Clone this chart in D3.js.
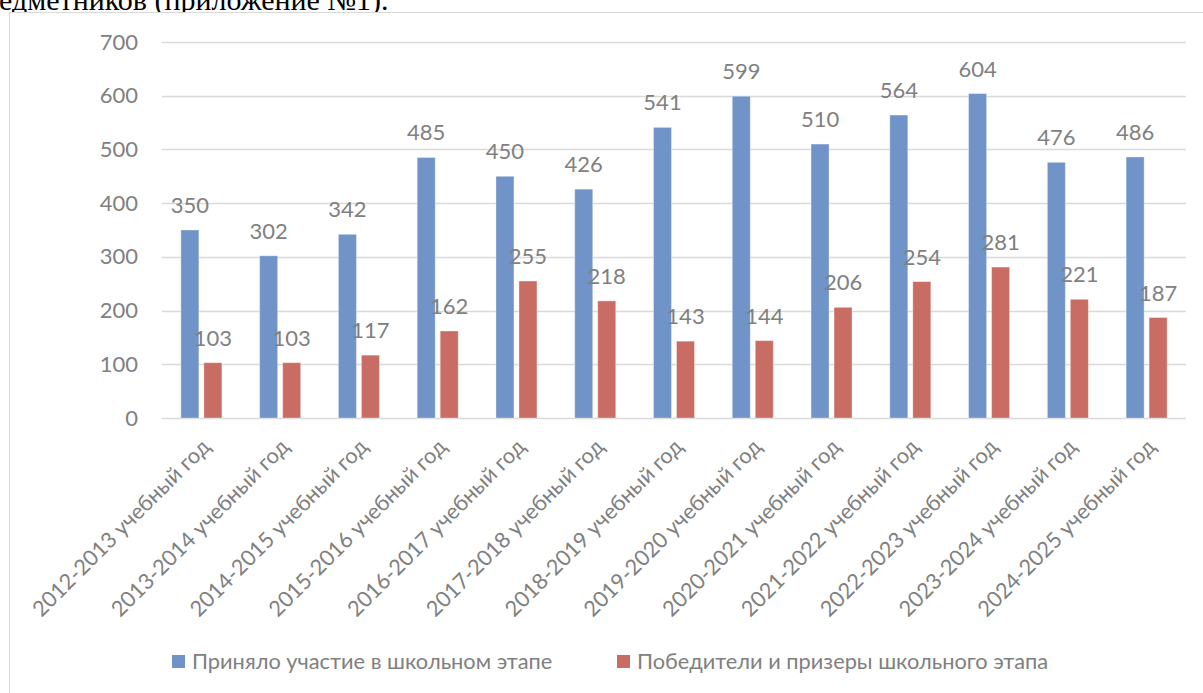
<!DOCTYPE html>
<html><head><meta charset="utf-8">
<script src="https://cdn.jsdelivr.net/npm/d3@7"></script>
<style>body{margin:0;background:#fff;overflow:hidden}svg{display:block}</style>
</head><body>
<svg id="c" width="1203" height="693"></svg>
<script>
const categories = ["2012-2013 учебный год","2013-2014 учебный год","2014-2015 учебный год","2015-2016 учебный год","2016-2017 учебный год","2017-2018 учебный год","2018-2019 учебный год","2019-2020 учебный год","2020-2021 учебный год","2021-2022 учебный год","2022-2023 учебный год","2023-2024 учебный год","2024-2025 учебный год"];
const participants = [350,302,342,485,450,426,541,599,510,564,604,476,486];
const winners = [103,103,117,162,255,218,143,144,206,254,281,221,187];
const seriesNames = ["Приняло участие в школьном этапе","Победители и призеры школьного этапа"];
const yTicks = [0,100,200,300,400,500,600,700];
const colors = ["#7093c8","#c96c63"];

const svg = d3.select("#c");
const font = "Lato, 'Open Sans', sans-serif";
const textCol = "#808080";

// clipped caption text above the chart
svg.append("text").attr("x", -32).attr("y", 10).attr("font-family","'Liberation Serif', 'Times New Roman', serif")
  .attr("font-size", 30).attr("fill", "#000").text("предметников (приложение №1).");

// chart border
svg.append("rect").attr("x", 9.5).attr("y", 12.5).attr("width", 1260).attr("height", 800)
  .attr("fill", "#fff").attr("stroke", "#d9d9d9").attr("stroke-width", 1);

const x = d3.scaleBand().domain(categories).range([162, 1186]).paddingInner(0).paddingOuter(0);
const y = d3.scaleLinear().domain([0, 700]).range([418, 42]);

// gridlines
svg.append("g").selectAll("line").data(yTicks).join("line")
  .attr("x1", 162).attr("x2", 1186)
  .attr("y1", d => Math.round(y(d)) + 0.5).attr("y2", d => Math.round(y(d)) + 0.5)
  .attr("stroke", "#d9d9d9").attr("stroke-width", 1.3);

// y axis labels
const yAxis = d3.axisLeft(y).tickValues(yTicks).tickSize(0).tickPadding(0);
const gy = svg.append("g").attr("transform", "translate(138,0)").call(yAxis);
gy.select(".domain").remove();
gy.selectAll("text").attr("font-family", font).attr("font-size", 22).attr("fill", textCol);

const barW = 18, gap = 5;
const series = [participants, winners];
series.forEach((vals, si) => {
  const g = svg.append("g");
  const off = si === 0 ? -(gap/2 + barW) : gap/2;
  g.selectAll("rect").data(vals).join("rect")
    .attr("x", (d,i) => x(categories[i]) + x.bandwidth()/2 + off)
    .attr("y", d => y(d)).attr("width", barW).attr("height", d => y(0) - y(d))
    .attr("fill", colors[si]).attr("stroke", "#fff").attr("stroke-opacity", 0.35).attr("stroke-width", 1);
  g.selectAll("text").data(vals).join("text")
    .attr("x", (d,i) => x(categories[i]) + x.bandwidth()/2 + off + barW/2)
    .attr("y", d => y(d) - 17)
    .attr("text-anchor", "middle").attr("font-family", font).attr("font-size", 22).attr("fill", textCol)
    .text(d => d);
});

// x axis labels
const xAxis = d3.axisBottom(x).tickSize(0).tickPadding(0);
const gx = svg.append("g").attr("transform", "translate(0,418)").call(xAxis);
gx.select(".domain").remove();
gx.selectAll("text").attr("font-family", font).attr("font-size", 21.7).attr("fill", textCol)
  .attr("text-anchor", "end").attr("dy", 0).attr("y", 0)
  .attr("transform", "translate(10,30) rotate(-45)");

// legend
const lg = svg.append("g");
const lx = [172, 617];
seriesNames.forEach((n, i) => {
  lg.append("rect").attr("x", lx[i]).attr("y", 655).attr("width", 13).attr("height", 13).attr("fill", colors[i]);
  lg.append("text").attr("x", lx[i] + 20).attr("y", 669).attr("font-family", font).attr("font-size", 21.8)
    .attr("fill", textCol).text(n);
});
</script>
</body></html>
